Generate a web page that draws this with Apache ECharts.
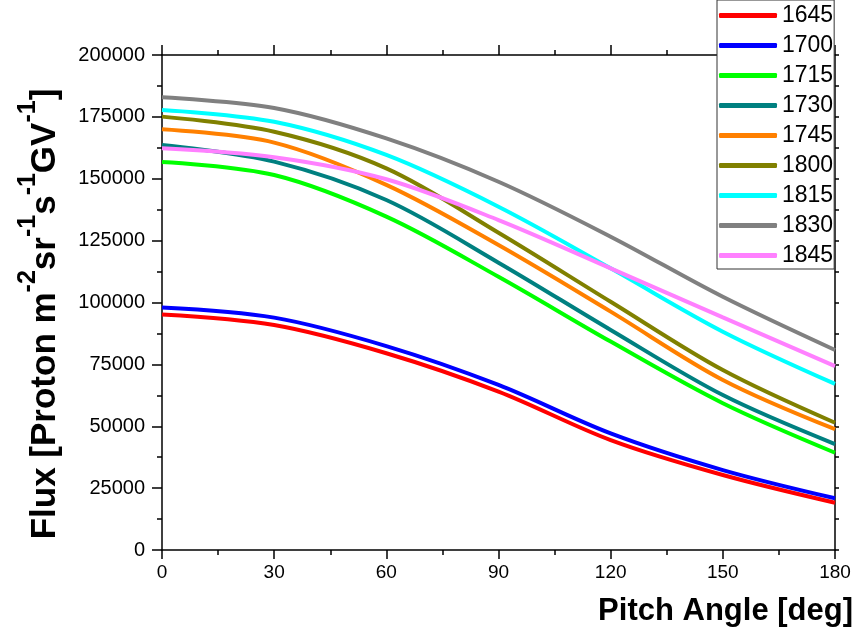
<!DOCTYPE html>
<html>
<head>
<meta charset="utf-8">
<script src="https://cdn.jsdelivr.net/npm/echarts@6/dist/echarts.min.js"></script>
<style>
    html, body { margin: 0; padding: 0; background: #fff; }
    #chart { width: 858px; height: 636px; }
</style>
</head>
<body>
<div id="chart"></div>
<script>
    // pitch angle (deg) where the curves were read
    const angles = [0, 30, 60, 90, 120, 150, 180]
    const xTicks = [0, 30, 60, 90, 120, 150, 180]
    const yTicks = [0, 25000, 50000, 75000, 100000, 125000, 150000, 175000, 200000]

    // flux values, one list per time
    const names = ['1645', '1700', '1715', '1730', '1745', '1800', '1815', '1830', '1845']
    const colors = ['#ff0000', '#0000ff', '#00ff00', '#008080', '#ff8000', '#808000', '#00ffff', '#808080', '#ff80ff']
    const f1645 = [95200, 90900, 79500, 64000, 44400, 30300, 19100]
    const f1700 = [98000, 93900, 82400, 66700, 47100, 32300, 20900]
    const f1715 = [156800, 151500, 134700, 110400, 84200, 59300, 39300]
    const f1730 = [163600, 156900, 141400, 116100, 88900, 62600, 42800]
    const f1745 = [170000, 164600, 147500, 123200, 96300, 68700, 48800]
    const f1800 = [175100, 169000, 154200, 128200, 100300, 72700, 51400]
    const f1815 = [177800, 173000, 159600, 138700, 113800, 88200, 67100]
    const f1830 = [182900, 178600, 166300, 148800, 126600, 102300, 80800]
    const f1845 = [162300, 158700, 149800, 133300, 113800, 94000, 74300]
    const fluxes = [f1645, f1700, f1715, f1730, f1745, f1800, f1815, f1830, f1845]

    const font = 'Liberation Sans, Arial, sans-serif'

    const chart = echarts.init(document.getElementById('chart'))

    const frameLine = { show: true, onZero: false, lineStyle: { color: '#000', width: 1.5 } }

    const series = names.map((n, i) => ({
        name: n,
        type: 'line',
        xAxisIndex: 0,
        yAxisIndex: 0,
        smooth: 0.33,
        symbol: 'none',
        data: angles.map((a, k) => [a, fluxes[i][k]]),
        lineStyle: { color: colors[i], width: 4 },
        itemStyle: { color: colors[i] },
        z: 2 + i
    }))

    const option = {
        animation: false,
        backgroundColor: '#fff',
        grid: { left: 162, right: 23, top: 55, bottom: 86, containLabel: false },
        legend: {
            orient: 'vertical',
            left: 717,
            top: 0,
            padding: [4, 1, 2, 2],
            itemGap: 7,
            itemWidth: 58,
            itemHeight: 5,
            icon: 'roundRect',
            backgroundColor: '#fff',
            borderColor: '#333',
            borderWidth: 1,
            borderRadius: 0,
            z: 20,
            data: names,
            textStyle: { fontFamily: font, fontSize: 23, color: '#000', lineHeight: 23 }
        },
        graphic: [{
            // y axis title, with superscripts
            type: 'text',
            x: 39,
            y: 314,
            rotation: Math.PI / 2,
            z: 10,
            style: {
                text: '{b|Flux [Proton m}{s|-2}{b|sr}{s|-1}{b|s}{s|-1}{b|GV}{s|-1}{b|]}',
                align: 'center',
                verticalAlign: 'middle',
                rich: {
                    b: { fontFamily: font, fontWeight: 'bold', fontSize: 35, fill: '#000', verticalAlign: 'bottom', lineHeight: 47 },
                    s: { fontFamily: font, fontWeight: 'bold', fontSize: 25, fill: '#000', verticalAlign: 'top', lineHeight: 47 }
                }
            }
        }],
        xAxis: [{
            type: 'value',
            min: xTicks[0],
            max: xTicks[xTicks.length - 1],
            interval: 30,
            name: 'Pitch Angle [deg]',
            nameLocation: 'end',
            nameGap: 0,
            nameTextStyle: {
                fontFamily: font, fontWeight: 'bold', fontSize: 31, color: '#000',
                align: 'right', verticalAlign: 'top', padding: [46, -18, 0, 0]
            },
            axisLine: frameLine,
            axisTick: { show: true, inside: false, length: 9, lineStyle: { color: '#000', width: 1.5 } },
            minorTick: { show: true, splitNumber: 2, length: 5, lineStyle: { color: '#000', width: 1.5 } },
            splitLine: { show: false },
            axisLabel: { fontFamily: font, fontSize: 19, color: '#000', margin: 13 }
        }, {
            type: 'value',
            position: 'top',
            min: xTicks[0],
            max: xTicks[xTicks.length - 1],
            interval: 30,
            axisLine: frameLine,
            axisTick: { show: true, inside: false, length: 10, lineStyle: { color: '#000', width: 1.5 } },
            minorTick: { show: true, splitNumber: 2, length: 5, lineStyle: { color: '#000', width: 1.5 } },
            splitLine: { show: false },
            axisLabel: { show: false }
        }],
        yAxis: [{
            type: 'value',
            min: yTicks[0],
            max: yTicks[yTicks.length - 1],
            interval: 25000,
            axisLine: frameLine,
            axisTick: { show: true, inside: false, length: 10, lineStyle: { color: '#000', width: 1.5 } },
            minorTick: { show: true, splitNumber: 2, length: 5, lineStyle: { color: '#000', width: 1.5 } },
            splitLine: { show: false },
            axisLabel: { fontFamily: font, fontSize: 20, color: '#000', margin: 17, formatter: v => String(v) }
        }, {
            type: 'value',
            position: 'right',
            min: yTicks[0],
            max: yTicks[yTicks.length - 1],
            interval: 25000,
            axisLine: frameLine,
            axisTick: { show: true, inside: false, length: 4, lineStyle: { color: '#000', width: 1.5 } },
            minorTick: { show: true, splitNumber: 2, length: 4, lineStyle: { color: '#000', width: 1.5 } },
            splitLine: { show: false },
            axisLabel: { show: false }
        }],
        series: series
    }

    chart.setOption(option)
    window.addEventListener('resize', () => chart.resize())
</script>
</body>
</html>
